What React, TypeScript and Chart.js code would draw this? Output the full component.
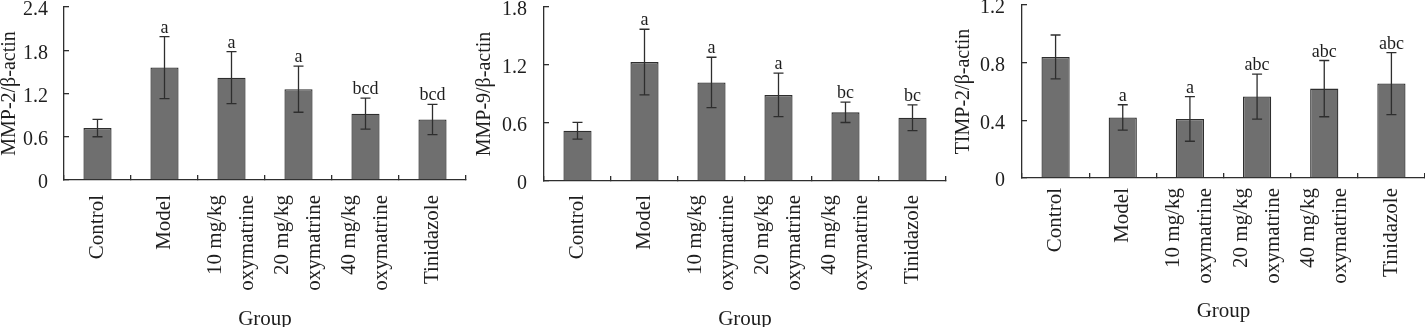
import React, { useEffect, useRef } from 'react';
import { Chart, registerables } from 'chart.js';

Chart.register(...registerables);

// ---------- data ----------
const categories: (string | string[])[] = [
  'Control',
  'Model',
  ['10 mg/kg', 'oxymatrine'],
  ['20 mg/kg', 'oxymatrine'],
  ['40 mg/kg', 'oxymatrine'],
  'Tinidazole',
];

const mmp2Means = [0.72, 1.56, 1.42, 1.26, 0.92, 0.84];
const mmp2Sd = [0.12, 0.43, 0.36, 0.32, 0.215, 0.21];
const mmp2Letters = ['', 'a', 'a', 'a', 'bcd', 'bcd'];
const mmp2Ticks = [0, 0.6, 1.2, 1.8, 2.4];

const mmp9Means = [0.52, 1.23, 1.02, 0.89, 0.71, 0.655];
const mmp9Sd = [0.087, 0.34, 0.26, 0.225, 0.105, 0.133];
const mmp9Letters = ['', 'a', 'a', 'a', 'bc', 'bc'];
const mmp9Ticks = [0, 0.6, 1.2, 1.8];

const timp2Means = [0.84, 0.42, 0.41, 0.565, 0.62, 0.655];
const timp2Sd = [0.152, 0.088, 0.155, 0.156, 0.195, 0.215];
const timp2Letters = ['', 'a', 'a', 'abc', 'abc', 'abc'];
const timp2Ticks = [0, 0.4, 0.8, 1.2];

const xTitle = 'Group';

// ---------- styling ----------
const FONT = "'Liberation Serif', 'Times New Roman', serif";
const TEXT = '#1e1e1e';
const LINE = '#2e2e2e';
const BAR_FILL = '#6f6f6f';
const CANVAS_TOP = -10;
const CANVAS_H = 347;

type Spec = {
  left: number;
  yTitle: string;
  means: number[];
  sds: number[];
  letters: string[];
  ticks: number[];
  padTop: number;
  padRight: number;
  yWidth: number;
  xHeight: number;
  yTitlePad: number;
  tickPad: number;
  labelGap: number;
  groupPad: number;
};

const specs: Spec[] = [
  {
    left: 0,
    yTitle: 'MMP-2/β-actin',
    means: mmp2Means,
    sds: mmp2Sd,
    letters: mmp2Letters,
    ticks: mmp2Ticks,
    padTop: 17,
    padRight: 9,
    yWidth: 64,
    xHeight: CANVAS_H - 190,
    yTitlePad: 0,
    tickPad: 21,
    labelGap: 15,
    groupPad: 5,
  },
  {
    left: 475,
    yTitle: 'MMP-9/β-actin',
    means: mmp9Means,
    sds: mmp9Sd,
    letters: mmp9Letters,
    ticks: mmp9Ticks,
    padTop: 17,
    padRight: 4,
    yWidth: 69,
    xHeight: CANVAS_H - 191,
    yTitlePad: 0,
    tickPad: 22,
    labelGap: 14,
    groupPad: 5,
  },
  {
    left: 950,
    yTitle: 'TIMP-2/β-actin',
    means: timp2Means,
    sds: timp2Sd,
    letters: timp2Letters,
    ticks: timp2Ticks,
    padTop: 15,
    padRight: 0,
    yWidth: 72,
    xHeight: CANVAS_H - 188,
    yTitlePad: 4,
    tickPad: 22,
    labelGap: 10,
    groupPad: 13,
  },
];

function makeOverlay(spec: Spec) {
  return {
    id: 'overlay',
    afterDatasetsDraw(chart: any) {
      const ctx = chart.ctx as CanvasRenderingContext2D;
      const xs = chart.scales.x;
      const ys = chart.scales.y;
      ctx.save();
      ctx.strokeStyle = LINE;
      ctx.lineWidth = 1.3;
      ctx.fillStyle = TEXT;
      ctx.font = `18px ${FONT}`;
      ctx.textAlign = 'center';
      ctx.textBaseline = 'alphabetic';
      spec.means.forEach((m, i) => {
        const x = xs.getPixelForValue(i);
        const yt = ys.getPixelForValue(m + spec.sds[i]);
        const yb = ys.getPixelForValue(m - spec.sds[i]);
        const cap = 5;
        ctx.beginPath();
        ctx.moveTo(x, yt);
        ctx.lineTo(x, yb);
        ctx.moveTo(x - cap, yt);
        ctx.lineTo(x + cap, yt);
        ctx.moveTo(x - cap, yb);
        ctx.lineTo(x + cap, yb);
        ctx.stroke();
        const letter = spec.letters[i];
        if (letter) ctx.fillText(letter, x, yt - 4);
      });
      // rotated category labels
      ctx.font = `21px ${FONT}`;
      ctx.textAlign = 'right';
      ctx.textBaseline = 'middle';
      const y0 = chart.chartArea.bottom + spec.labelGap;
      categories.forEach((c, i) => {
        const lines = Array.isArray(c) ? c : [c];
        const cx = xs.getPixelForValue(i);
        lines.forEach((ln, k) => {
          const off = (k - (lines.length - 1) / 2) * 32;
          ctx.save();
          ctx.translate(cx + off, y0);
          ctx.rotate(-Math.PI / 2);
          ctx.fillText(ln, 0, 0);
          ctx.restore();
        });
      });
      ctx.restore();
    },
  };
}

function Panel({ spec }: { spec: Spec }) {
  const ref = useRef<HTMLCanvasElement>(null);
  useEffect(() => {
    if (!ref.current) return;
    const maxV = spec.ticks[spec.ticks.length - 1];
    const step = spec.ticks[1] - spec.ticks[0];
    const chart = new Chart(ref.current, {
      type: 'bar',
      data: {
        labels: categories.map((c) => (Array.isArray(c) ? c.join(' ') : c)),
        datasets: [
          {
            data: spec.means,
            backgroundColor: BAR_FILL,
            borderColor: LINE,
            borderWidth: 1.3,
            barPercentage: 0.42,
            categoryPercentage: 1,
          },
        ],
      },
      options: {
        animation: false,
        responsive: false,
        devicePixelRatio: 1,
        layout: { padding: { top: spec.padTop, right: spec.padRight, left: 0, bottom: 0 } },
        plugins: { legend: { display: false }, tooltip: { enabled: false } },
        scales: {
          x: {
            grid: { drawOnChartArea: false, tickLength: -5, color: LINE, lineWidth: 1.3 },
            border: { color: LINE, width: 1.3 },
            ticks: { display: false },
            title: {
              display: true,
              text: xTitle,
              color: TEXT,
              font: { family: FONT, size: 21, lineHeight: 1.2 },
              padding: { top: 0, bottom: spec.groupPad },
            },
            afterFit: (s: any) => {
              s.height = spec.xHeight;
              s.paddingLeft = 0;
              s.paddingRight = 0;
            },
          },
          y: {
            min: 0,
            max: maxV,
            grid: { drawOnChartArea: false, tickLength: -5, color: LINE, lineWidth: 1.3 },
            border: { color: LINE, width: 1.3 },
            ticks: {
              stepSize: step,
              padding: spec.tickPad,
              labelOffset: 3,
              color: TEXT,
              font: { family: FONT, size: 20 },
              callback: (v: any) => (Number(v) === 0 ? '0' : Number(v).toFixed(1)),
            },
            title: {
              display: true,
              text: spec.yTitle,
              color: TEXT,
              font: { family: FONT, size: 20, lineHeight: 1.0 },
              padding: { top: spec.yTitlePad, bottom: 0 },
            },
            afterFit: (s: any) => {
              s.width = spec.yWidth;
              s.paddingTop = 0;
              s.paddingBottom = 0;
            },
          },
        },
      } as any,
      plugins: [makeOverlay(spec)],
    });
    return () => chart.destroy();
  }, [spec]);
  return (
    <canvas
      ref={ref}
      width={475}
      height={CANVAS_H}
      style={{ position: 'absolute', left: spec.left, top: CANVAS_TOP, width: 475, height: CANVAS_H }}
    />
  );
}

export default function App() {
  return (
    <div
      style={{
        position: 'fixed',
        left: 0,
        top: 0,
        width: 1425,
        height: 327,
        overflow: 'hidden',
        background: '#fff',
      }}
    >
      {specs.map((s, i) => (
        <Panel key={i} spec={s} />
      ))}
    </div>
  );
}
